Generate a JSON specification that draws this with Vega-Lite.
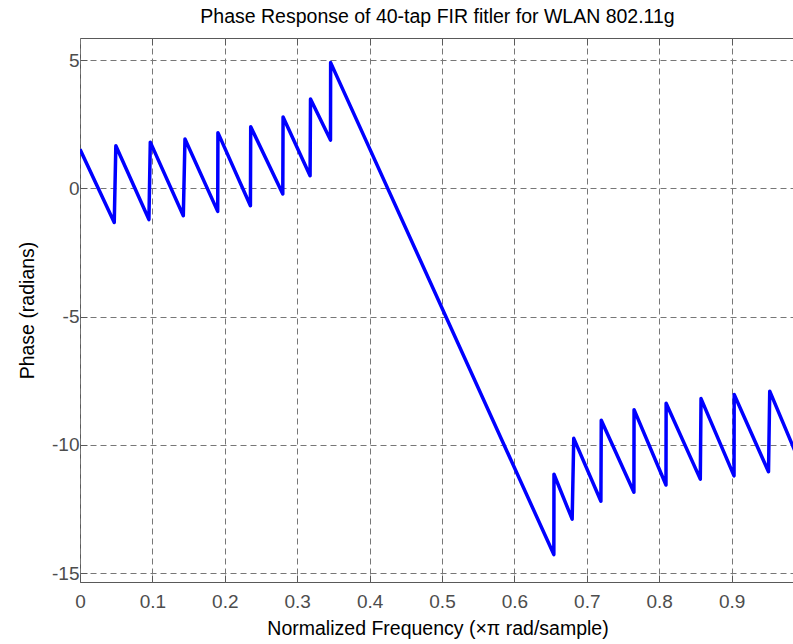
{
  "$schema": "https://vega.github.io/schema/vega-lite/v6.json",
  "width": 715,
  "height": 544,
  "autosize": {"type": "none"},
  "padding": {"left": 80, "top": 38, "right": 0, "bottom": 62},
  "background": "white",
  "config": {
    "font": "Liberation Sans",
    "view": {"stroke": "#595959", "strokeWidth": 1},
    "axis": {
      "domain": false,
      "grid": true,
      "gridColor": "#777777",
      "gridDash": [6, 4],
      "gridOpacity": 1,
      "gridWidth": 1,
      "tickColor": "#595959",
      "tickSize": -7,
      "labelColor": "#4d4d4d",
      "labelFont": "Liberation Sans",
      "labelFontSize": 19,
      "labelFlush": false,
      "labelExpr": "'' + datum.value",
      "titleFont": "Liberation Sans",
      "titleFontSize": 19.5,
      "titleFontWeight": "normal",
      "titleColor": "#000000"
    }
  },
  "title": {
    "text": "Phase Response of 40-tap FIR fitler for WLAN 802.11g",
    "fontSize": 19.5,
    "fontWeight": "normal",
    "font": "Liberation Sans",
    "color": "#000000",
    "offset": 10
  },
  "data": {
    "values": [
      {"i": 1, "f": 0.0, "phase": 1.52},
      {"i": 2, "f": 0.0473, "phase": -1.33},
      {"i": 3, "f": 0.0495, "phase": 1.66},
      {"i": 4, "f": 0.0952, "phase": -1.22},
      {"i": 5, "f": 0.0971, "phase": 1.8},
      {"i": 6, "f": 0.1427, "phase": -1.07},
      {"i": 7, "f": 0.145, "phase": 1.92},
      {"i": 8, "f": 0.1902, "phase": -0.9},
      {"i": 9, "f": 0.1905, "phase": 2.17},
      {"i": 10, "f": 0.2354, "phase": -0.68},
      {"i": 11, "f": 0.2358, "phase": 2.4},
      {"i": 12, "f": 0.2801, "phase": -0.22},
      {"i": 13, "f": 0.2805, "phase": 2.78},
      {"i": 14, "f": 0.3178, "phase": 0.49},
      {"i": 15, "f": 0.3184, "phase": 3.48},
      {"i": 16, "f": 0.346, "phase": 1.88},
      {"i": 17, "f": 0.3462, "phase": 4.9},
      {"i": 18, "f": 0.6545, "phase": -14.28},
      {"i": 19, "f": 0.6547, "phase": -11.15},
      {"i": 20, "f": 0.6798, "phase": -12.9},
      {"i": 21, "f": 0.682, "phase": -9.75},
      {"i": 22, "f": 0.7195, "phase": -12.2},
      {"i": 23, "f": 0.72, "phase": -9.04},
      {"i": 24, "f": 0.7651, "phase": -11.85},
      {"i": 25, "f": 0.7653, "phase": -8.63},
      {"i": 26, "f": 0.8094, "phase": -11.57},
      {"i": 27, "f": 0.8096, "phase": -8.38},
      {"i": 28, "f": 0.8568, "phase": -11.34},
      {"i": 29, "f": 0.8578, "phase": -8.2},
      {"i": 30, "f": 0.9034, "phase": -11.21},
      {"i": 31, "f": 0.9036, "phase": -8.04},
      {"i": 32, "f": 0.951, "phase": -11.05},
      {"i": 33, "f": 0.9527, "phase": -7.91},
      {"i": 34, "f": 0.9876, "phase": -10.25}
    ]
  },
  "layer": [
    {
      "mark": {"type": "line", "color": "#0000ff", "strokeWidth": 3.5, "strokeJoin": "round", "clip": true},
      "encoding": {
        "x": {
          "field": "f",
          "type": "quantitative",
          "scale": {"domain": [0, 0.9876], "nice": false, "zero": false},
          "axis": {
            "orient": "bottom",
            "values": [0, 0.1, 0.2, 0.3, 0.4, 0.5, 0.6, 0.7, 0.8, 0.9],
            "labelPadding": 17,
            "title": "Normalized Frequency (×π rad/sample)",
            "titlePadding": 8
          }
        },
        "y": {
          "field": "phase",
          "type": "quantitative",
          "scale": {"domain": [-15.35, 5.86], "nice": false, "zero": false},
          "axis": {
            "values": [-15, -10, -5, 0, 5],
            "labelPadding": 8,
            "title": "Phase (radians)",
            "titlePadding": 14
          }
        },
        "order": {"field": "i", "type": "quantitative"}
      }
    },
    {
      "mark": {"type": "point", "opacity": 0},
      "encoding": {
        "x": {
          "field": "f",
          "type": "quantitative",
          "axis": {
            "orient": "top",
            "values": [0.1, 0.2, 0.3, 0.4, 0.5, 0.6, 0.7, 0.8, 0.9],
            "labels": false,
            "grid": false,
            "title": null
          }
        }
      }
    }
  ],
  "resolve": {"axis": {"x": "independent"}}
}
